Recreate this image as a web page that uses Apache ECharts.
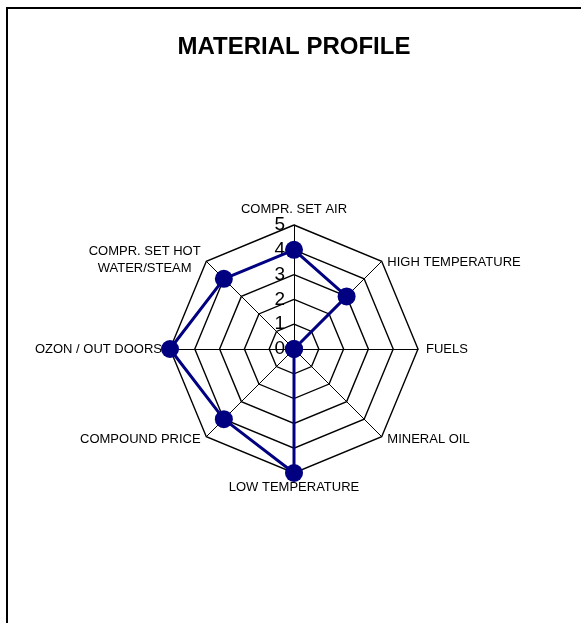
<!DOCTYPE html>
<html>
<head>
<meta charset="utf-8">
<script src="https://cdn.jsdelivr.net/npm/echarts@6/dist/echarts.min.js"></script>
<style>
html,body{margin:0;padding:0;background:#fff;overflow:hidden;}
#frame{position:absolute;left:6px;top:7px;width:600px;height:700px;border-left:2px solid #000;border-top:2px solid #000;box-sizing:border-box;}
#chart{position:absolute;left:0;top:0;width:581px;height:623px;}
</style>
</head>
<body>
<div id="frame"></div>
<div id="chart"></div>
<script>
const titleText = 'MATERIAL PROFILE';
// categories listed clockwise starting from the top
const categories = ['COMPR. SET AIR', 'HIGH TEMPERATURE', 'FUELS', 'MINERAL OIL', 'LOW TEMPERATURE', 'COMPOUND PRICE', 'OZON / OUT DOORS', 'COMPR. SET HOT\nWATER/STEAM'];
const values = [4, 3, 0, 0, 5, 4, 5, 4];
const scaleMax = 5;
const scaleSplits = 5;

// ECharts radar runs counter-clockwise; reorder so the picture runs clockwise
const order = [0].concat(categories.map((_, i) => i).slice(1).reverse());
const indicators = order.map((k, j) => {
  const ind = {name: categories[k], min: 0, max: scaleMax};
  if (j === 0) ind.axisLabel = {show: true};
  return ind;
});
const orderedValues = order.map(k => values[k]);

const FONT = 'Liberation Sans, Arial, sans-serif';
const chart = echarts.init(document.getElementById('chart'), null, {renderer: 'canvas'});
chart.setOption({
  backgroundColor: 'transparent',
  animation: false,
  title: {
    text: titleText,
    left: 289,
    textAlign: 'center',
    top: 30,
    textStyle: {fontFamily: FONT, fontWeight: 'bold', fontSize: 24, color: '#000'}
  },
  radar: {
    center: [294, 349],
    radius: 124,
    startAngle: 90,
    shape: 'polygon',
    splitNumber: scaleSplits,
    nameGap: 8,
    axisName: {
      color: '#000',
      fontFamily: FONT,
      fontSize: 13,
      formatter: function (name) {
        const idx = categories.indexOf(name);
        if (name.indexOf('\n') >= 0) {
          return '{s| }\n' + name.split('\n').map(s => '{m|' + s + '}').join('\n');
        }
        if (idx === 1) return '{dn|' + name + '}';
        if (idx === 3 || idx === 5) return '{up|' + name + '}';
        return name;
      },
      rich: {
        s: {lineHeight: 9, fontSize: 6},
        m: {width: 112, align: 'center', lineHeight: 17, fontSize: 13, color: '#000', fontFamily: FONT},
        dn: {padding: [14, 0, 0, 0], fontSize: 13, color: '#000', fontFamily: FONT},
        up: {padding: [0, 0, 6, 0], fontSize: 13, color: '#000', fontFamily: FONT}
      }
    },
    indicator: indicators,
    axisLine: {show: true, lineStyle: {color: '#000', width: 1}},
    splitLine: {show: true, lineStyle: {color: '#000', width: 1.4}},
    splitArea: {show: false},
    axisTick: {show: false},
    axisLabel: {
      show: false,
      color: '#000',
      fontSize: 19,
      fontFamily: FONT,
      margin: 9
    }
  },
  series: [{
    type: 'radar',
    symbol: 'circle',
    symbolSize: 18,
    itemStyle: {color: '#000080'},
    lineStyle: {color: '#000080', width: 3},
    data: [{value: orderedValues, name: 'Profile'}]
  }]
});
</script>
</body>
</html>
